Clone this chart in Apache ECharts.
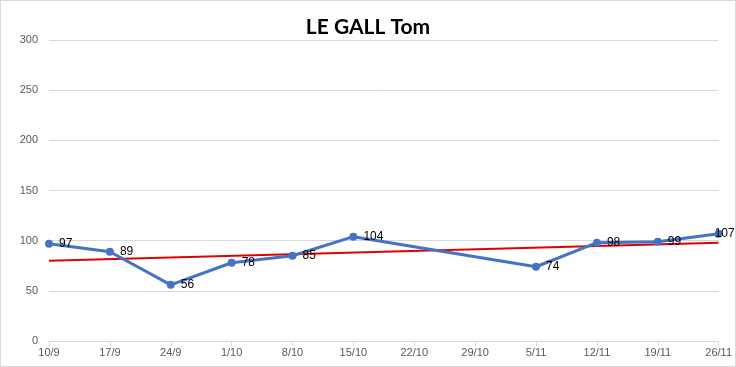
<!DOCTYPE html>
<html><head><meta charset="utf-8">
<script src="https://cdn.jsdelivr.net/npm/echarts@6/dist/echarts.min.js"></script>
<style>html,body{margin:0;padding:0;background:#fff}#c{width:736px;height:367px;box-sizing:border-box;border:1px solid #d9d9d9}</style>
</head><body><div id="c"></div>
<script>
const categories = ['10/9','17/9','24/9','1/10','8/10','15/10','22/10','29/10','5/11','12/11','19/11','26/11'];
const values = [97, 89, 56, 78, 85, 104, null, null, 74, 98, 99, 107];
const trend = [80, null, null, null, null, null, null, null, null, null, null, 98];
const yTicks = {min: 0, max: 300, interval: 50};

const seriesData = values.map((v, i) => i === values.length - 1
  ? {value: v, label: {offset: [-14, 0]}} : v);

const chart = echarts.init(document.getElementById('c'), null, {renderer: 'canvas'});
chart.setOption({
  animation: false,
  title: {text: 'LE GALL Tom', left: 'center', top: 11,
    textStyle: {fontFamily: 'Lato', fontWeight: 'bold', fontSize: 21, color: '#000'}},
  grid: {left: 48, right: 16, top: 39, bottom: 25},
  xAxis: {type: 'category', data: categories, boundaryGap: false,
    axisLine: {lineStyle: {color: '#d9d9d9'}},
    axisTick: {show: true, length: 5, lineStyle: {color: '#d9d9d9'}},
    axisLabel: {color: '#595959', fontSize: 11, fontFamily: 'Liberation Sans', margin: 6}},
  yAxis: {type: 'value', min: yTicks.min, max: yTicks.max, interval: yTicks.interval,
    axisLine: {show: false}, axisTick: {show: false},
    splitLine: {lineStyle: {color: '#d9d9d9'}},
    axisLabel: {color: '#595959', fontSize: 11, fontFamily: 'Liberation Sans', margin: 11}},
  series: [
    {type: 'line', data: trend, connectNulls: true, symbol: 'none', z: 1,
      lineStyle: {color: '#e00000', width: 2}},
    {type: 'line', data: seriesData, connectNulls: true, symbol: 'circle', symbolSize: 8, z: 2,
      itemStyle: {color: '#4472c4'}, lineStyle: {color: '#4472c4', width: 3},
      label: {show: true, position: 'right', distance: 6, color: '#000', fontSize: 12, fontFamily: 'Liberation Sans'}}
  ]
});
</script></body></html>
